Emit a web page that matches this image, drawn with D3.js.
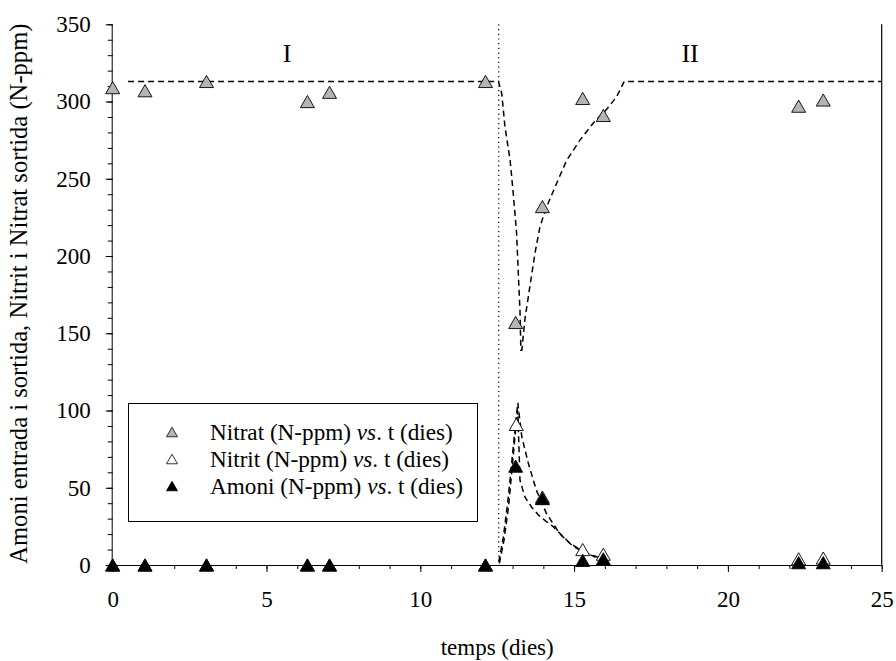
<!DOCTYPE html>
<html>
<head>
<meta charset="utf-8">
<script src="https://cdn.jsdelivr.net/npm/d3@7"></script>
<style>
  html, body { margin: 0; padding: 0; background: #fff; }
  svg { display: block; font-family: "Liberation Serif", "Times New Roman", "DejaVu Serif", serif; }
</style>
</head>
<body>
<svg id="chart" width="896" height="661"></svg>
<script>
// Measured concentrations (N-ppm) against time (days)
const nitratDays   = [0, 1.05, 3.05, 6.33, 7.05, 12.12, 13.1, 13.97, 15.28, 15.95, 22.3, 23.1];
const nitratValues = [309, 307, 313, 300, 306, 313, 157, 232, 302, 291, 297, 301];

const nitritDays   = [0, 1.05, 3.05, 6.33, 7.05, 12.12, 13.12, 13.97, 15.28, 15.95, 22.3, 23.1];
const nitritValues = [0, 0, 0, 0, 0, 0, 91, 44, 10, 7, 4, 4.5];

const amoniDays    = [0, 1.05, 3.05, 6.33, 7.05, 12.12, 13.1, 13.97, 15.28, 15.95, 22.3, 23.1];
const amoniValues  = [0, 0, 0, 0, 0, 0, 64, 43, 3, 4, 1.5, 1.5];

// Model curves (dashed)
const nitratModelDays   = [0.5, 12.54, 12.65, 12.75, 12.92, 13.02, 13.13, 13.19, 13.24, 13.27, 13.30, 13.40, 13.56, 13.73, 13.89, 14.11, 14.43, 14.76, 15.19, 15.62, 16.06, 16.38, 16.63, 25];
const nitratModelValues = [313, 313, 305, 284, 262, 241, 215, 187, 165, 139, 139, 159, 180, 202, 219, 232, 247, 262, 275, 286, 295, 303, 313, 313];

const nitritModelDays   = [12.55, 12.7, 12.85, 13.0, 13.1, 13.17, 13.3, 13.51, 13.78, 14.11, 14.54, 14.97, 15.41, 15.73, 16.0];
const nitritModelValues = [2, 18, 42, 72, 92, 105, 83, 66, 48, 33, 20, 12, 7.6, 5.4, 4];

const amoniModelDays    = [12.57, 12.72, 12.87, 13.0, 13.1, 13.17, 13.24, 13.4, 13.61, 13.89, 14.32, 14.87, 15.3, 15.7];
const amoniModelValues  = [1, 16, 38, 66, 88, 100, 55, 44, 37.7, 31.3, 24.8, 14, 8.6, 5];

// Phase boundary and phase labels
const phaseBoundary = 12.55;
const phaseLabels = [{ text: "I", day: 5.67 }, { text: "II", day: 18.77 }];

const xTicks = [0, 5, 10, 15, 20, 25];
const yTicks = [0, 50, 100, 150, 200, 250, 300, 350];

const legendLabels = [
  { name: "Nitrat", fill: "#b4b4b4" },
  { name: "Nitrit", fill: "#ffffff" },
  { name: "Amoni", fill: "#000000" }
];

const svg = d3.select("#chart");
const plotLeft = 112.7, plotRight = 881.7, plotTop = 24.3, plotBottom = 565;
const serif = "Liberation Serif, Times New Roman, serif";

const x = d3.scaleLinear().domain([0, 25]).range([plotLeft, plotRight]);
const y = d3.scaleLinear().domain([0, 350]).range([plotBottom, plotTop]);

// X axis with minor ticks every day
const xAxis = svg.append("g").attr("transform", `translate(0,${plotBottom})`);
xAxis.call(d3.axisBottom(x).tickValues(d3.range(0, 26, 1)).tickSize(4).tickFormat(""));
xAxis.call(g => g.select(".domain").remove());
const xMajor = svg.append("g").attr("transform", `translate(0,${plotBottom})`)
  .call(d3.axisBottom(x).tickValues(xTicks).tickSize(7).tickPadding(19).tickFormat(d3.format("d")));
xMajor.attr("font-family", serif);
xMajor.selectAll("text").attr("font-size", 23).attr("fill", "#000");
xMajor.select(".domain").attr("d", `M${plotLeft},0.5H${plotRight}`);

// Y axis with minor ticks every 10
const yAxis = svg.append("g").attr("transform", `translate(${plotLeft},0)`);
yAxis.call(d3.axisLeft(y).tickValues(d3.range(0, 351, 10)).tickSize(5).tickFormat(""));
yAxis.call(g => g.select(".domain").remove());
const yMajor = svg.append("g").attr("transform", `translate(${plotLeft},0)`)
  .call(d3.axisLeft(y).tickValues(yTicks).tickSize(7).tickPadding(15).tickFormat(d3.format("d")));
yMajor.attr("font-family", serif);
yMajor.selectAll("text").attr("font-size", 23).attr("fill", "#000");
yMajor.select(".domain").attr("d", `M-0.5,${plotTop}V${plotBottom}`);

// Right frame line
svg.append("line")
  .attr("x1", plotRight).attr("x2", plotRight).attr("y1", plotTop).attr("y2", plotBottom)
  .attr("stroke", "#000").attr("stroke-width", 1.2);

// Phase boundary (dotted)
svg.append("line")
  .attr("x1", x(phaseBoundary)).attr("x2", x(phaseBoundary))
  .attr("y1", plotTop).attr("y2", plotBottom)
  .attr("stroke", "#000").attr("stroke-width", 1.2).attr("stroke-dasharray", "1.2,3.5");

svg.selectAll(".phase").data(phaseLabels).join("text")
  .attr("class", "phase")
  .attr("x", d => x(d.day)).attr("y", 62)
  .attr("text-anchor", "middle").attr("font-size", 26).attr("fill", "#000")
  .text(d => d.text);

// Dashed model curves
const line = d3.line().x(d => x(d[0])).y(d => y(d[1]));
function dashed(days, values) {
  svg.append("path")
    .datum(d3.zip(days, values))
    .attr("d", line)
    .attr("fill", "none").attr("stroke", "#000")
    .attr("stroke-width", 1.5).attr("stroke-dasharray", "6,4");
}
dashed(nitratModelDays, nitratModelValues);
dashed(nitritModelDays, nitritModelValues);
dashed(amoniModelDays, amoniModelValues);

// Triangle markers
function tri(cx, cy, w) {
  const h = w * 0.87;
  return `M${cx},${cy - h / 2}L${cx + w / 2},${cy + h / 2}L${cx - w / 2},${cy + h / 2}Z`;
}
function markers(days, values, fill) {
  svg.append("g").selectAll("path")
    .data(d3.zip(days, values)).join("path")
    .attr("d", d => tri(x(d[0]), y(d[1]), 14))
    .attr("fill", fill).attr("stroke", "#000").attr("stroke-width", 0.9);
}
markers(nitratDays, nitratValues, legendLabels[0].fill);
markers(nitritDays, nitritValues, legendLabels[1].fill);
markers(amoniDays, amoniValues, legendLabels[2].fill);

// Legend
const lg = svg.append("g");
lg.append("rect")
  .attr("x", 128.5).attr("y", 403.5).attr("width", 349).attr("height", 118)
  .attr("fill", "#fff").attr("stroke", "#000").attr("stroke-width", 1);
legendLabels.forEach((d, i) => {
  const cy = 433 + i * 27;
  lg.append("path").attr("d", tri(172, cy - 1, 11))
    .attr("fill", d.fill).attr("stroke", "#000").attr("stroke-width", 0.8);
  const t = lg.append("text").attr("x", 210).attr("y", cy + 7)
    .attr("font-size", 23.2).attr("fill", "#000");
  t.append("tspan").text(d.name + " (N-ppm) ");
  t.append("tspan").attr("font-style", "italic").text("vs");
  t.append("tspan").text(". t (dies)");
});

// Axis titles
svg.append("text")
  .attr("x", x(12.5)).attr("y", 655)
  .attr("text-anchor", "middle").attr("font-size", 23).attr("fill", "#000")
  .text("temps (dies)");
svg.append("text")
  .attr("transform", `translate(27,${(plotTop + plotBottom) / 2 - 1}) rotate(-90)`)
  .attr("text-anchor", "middle").attr("font-size", 24.6).attr("fill", "#000")
  .text("Amoni entrada i sortida, Nitrit i Nitrat sortida (N-ppm)");
</script>
</body>
</html>
